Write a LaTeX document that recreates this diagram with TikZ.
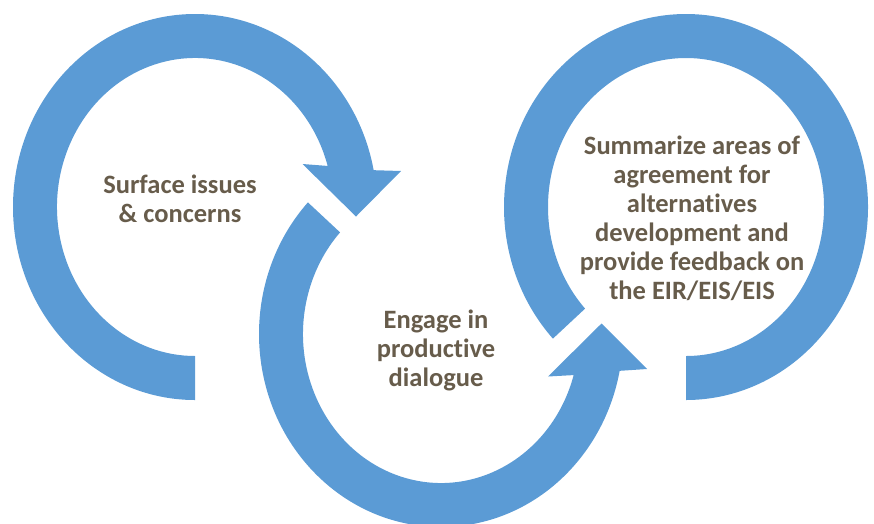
\documentclass[tikz,border=0pt]{standalone}
\usepackage{fontspec}
\setmainfont{Carlito}[Ligatures={NoCommon}]
\usetikzlibrary{calc}
\definecolor{ringblue}{HTML}{5B9BD5}
\definecolor{txtbrown}{HTML}{675C4B}
\begin{document}
\begin{tikzpicture}[x=1pt,y=1pt,
  ring/.style={fill=ringblue},
  lbl/.style={text=txtbrown, font=\fontsize{26.5}{29}\selectfont\bfseries, align=center, inner sep=0pt}]
\useasboundingbox (0,0) rectangle (874,-523);
\coordinate (c1) at (195,-207);
\coordinate (c2) at (441,-334);
\coordinate (c3) at (686,-207);
% ring 1
\fill[ring] ($(c1)+(270:138pt and 149pt)$) -- ($(c1)+(270:182pt and 193pt)$)
  arc[start angle=270, end angle=11, x radius=182pt, y radius=193pt]
  -- ($(c1)+(206,36)$) -- ($(c1)+(161,-9.5)$) -- ($(c1)+(107.5,43)$)
  -- ($(c1)+(16:138pt and 149pt)$)
  arc[start angle=16, end angle=270, x radius=138pt, y radius=149pt] -- cycle;
% ring 2
\fill[ring] ($(c2)+(137:182pt and 193pt)$)
  arc[start angle=137, end angle=349, x radius=182pt, y radius=193pt]
  -- ($(c2)+(206,-35)$) -- ($(c2)+(160.5,10.5)$) -- ($(c2)+(107,-42.5)$)
  -- ($(c2)+(344:138pt and 149pt)$)
  arc[start angle=344, end angle=137, x radius=138pt, y radius=149pt] -- cycle;
% ring 3
\fill[ring] ($(c3)+(223:182pt and 193pt)$)
  arc[start angle=223, end angle=-90, x radius=182pt, y radius=193pt]
  -- ($(c3)+(270:138pt and 149pt)$)
  arc[start angle=-90, end angle=223, x radius=138pt, y radius=149pt] -- cycle;
\node[lbl] (t1) at (180,-199) {Surface issues\\\& concerns};
\node[lbl] (t2) at (436,-350) {Engage in\\productive\\dialogue};
\node[lbl] (t3) at (692,-218) {Summarize areas of\\agreement for\\alternatives\\development and\\provide feedback on\\the EIR/EIS/EIS};
\end{tikzpicture}
\end{document}
